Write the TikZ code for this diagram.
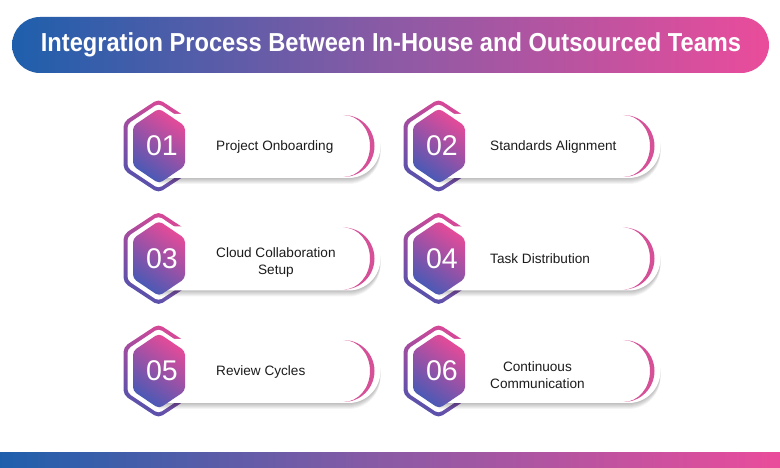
\documentclass[tikz,border=0pt]{standalone}
\usepackage{fontspec}
\setmainfont{Liberation Sans}
\usetikzlibrary{math}
\definecolor{barblue}{RGB}{30,95,172}
\definecolor{barmid}{RGB}{140,90,165}
\definecolor{barpink}{RGB}{234,76,155}
\definecolor{hexpink}{RGB}{232,74,152}
\definecolor{hexblue}{RGB}{70,90,182}
\definecolor{rimpink}{RGB}{218,72,150}
\definecolor{rimblue}{RGB}{86,82,172}
\definecolor{moonpink}{RGB}{214,80,152}
\definecolor{labeltext}{RGB}{28,28,28}
\tikzstyle{bar} = [left color=barblue, right color=barpink, middle color=barmid]
\tikzstyle{rim} = [top color=rimpink, bottom color=rimblue, shading angle=-30, rounded corners=5pt]
\tikzstyle{hexfill} = [top color=hexpink, bottom color=hexblue, shading angle=-35, rounded corners=4pt]
\tikzstyle{numtext} = [text=white, font=\fontsize{28.5}{32}\selectfont]
\tikzstyle{steptext} = [text=labeltext, align=center, anchor=west, inner sep=0pt, font=\fontsize{13.6}{17}\selectfont]
% pointy-top hexagon: centre x, centre y, half width, half height, side offset
\newcommand{\hexa}[5]{({#1},{#2+#4}) -- ({#1+#3},{#2+#5}) -- ({#1+#3},{#2-#5}) -- ({#1},{#2-#4}) -- ({#1-#3},{#2-#5}) -- ({#1-#3},{#2+#5}) -- cycle}

\begin{document}
\begin{tikzpicture}[x=1pt, y=1pt]

  \useasboundingbox (0,0) rectangle (780,468);
  \fill[white] (0,0) rectangle (780,468);

  % header and footer
  \shade[bar, rounded corners=28pt] (12,395) rectangle (769,451);
  \node[text=white, font=\fontsize{26}{30}\selectfont\bfseries] (title) at (391,423)
    {\scalebox{0.91}[1]{Integration Process Between In-House and Outsourced Teams}};
  \shade[bar] (0,0) rectangle (780,15);

  \foreach \n/\cx/\cy/\tx/\dy/\txt in {01/158.5/322/216/0/{Project Onboarding},
                                        02/438.5/322/490/0/{Standards Alignment},
                                        03/158.5/209.5/216/-3.5/{Cloud Collaboration\\Setup},
                                        04/438.5/209.5/490/0/{Task Distribution},
                                        05/158.5/97/216/0/{Review Cycles},
                                        06/438.5/97/490/-3.5/{Continuous\\Communication}} {

    \tikzmath{\xr = \cx + 190; \mx = \cx + 185;}

    % outer rim
    \shade[rim] \hexa{\cx}{\cy}{35}{47}{24};
    \fill[white, rounded corners=4pt] \hexa{\cx}{\cy}{31}{42.5}{21.8};

    % card with shadow
    \foreach \k in {1,...,6}
      \fill[black, opacity=0.045] (\cx,\cy-32-\k) -- (\xr,\cy-32-\k) arc[start angle=-90, end angle=90, radius=32] -- (\cx,\cy+32-\k) -- cycle;
    \fill[white] (\cx,\cy-32) -- (\xr,\cy-32) arc[start angle=-90, end angle=90, radius=32] -- (\cx,\cy+32) -- cycle;
    \fill[moonpink] (\mx,\cy+31) arc[start angle=90, end angle=-90, radius=31]
      arc[start angle=-90, end angle=90, x radius=26.5, y radius=31] -- cycle;

    % inner hexagon and texts
    \shade[hexfill] \hexa{\cx+0.5}{\cy}{26}{37.5}{20};
    \node[numtext] (num\n) at (\cx+3.5,\cy) {\n};
    \node[steptext] (lab\n) at (\tx,\cy-0.5+\dy) {\txt};
  }

\end{tikzpicture}
\end{document}
